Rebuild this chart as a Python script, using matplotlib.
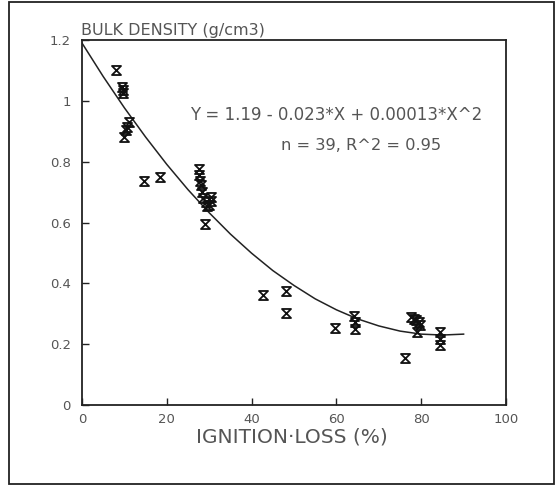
import matplotlib
matplotlib.use("Agg")
import matplotlib.pyplot as plt
from matplotlib.path import Path
from matplotlib.patches import Rectangle

# ---- data ----
ignition_loss = [8.1, 9.5, 9.6, 9.7, 9.9, 10.3, 10.6, 11.1, 14.6, 18.3,
                 27.6, 27.6, 27.8, 28.0, 28.4, 28.6, 29.2, 29.5, 30.0, 30.4,
                 30.4, 28.9, 42.7, 48.2, 48.0, 59.6, 64.2, 64.3, 64.3, 76.1,
                 77.7, 78.3, 78.8, 79.4, 79.6, 79.1, 84.4, 84.5, 84.5]
bulk_density = [1.10, 1.045, 1.025, 1.035, 0.88, 0.905, 0.915, 0.93, 0.738, 0.751,
                0.777, 0.755, 0.735, 0.724, 0.70, 0.68, 0.669, 0.655, 0.658, 0.685,
                0.67, 0.595, 0.363, 0.374, 0.303, 0.254, 0.293, 0.273, 0.251, 0.155,
                0.289, 0.284, 0.278, 0.272, 0.264, 0.240, 0.240, 0.218, 0.198]

fit_x = [0, 5, 10, 15, 20, 25, 30, 35, 40, 45, 50, 55, 60, 65, 70, 75, 80, 85, 90]
fit_y = [1.19, 1.080, 0.977, 0.881, 0.791, 0.708, 0.632, 0.562, 0.499, 0.442,
         0.393, 0.349, 0.313, 0.283, 0.260, 0.243, 0.233, 0.230, 0.233]

x_ticks = [0, 20, 40, 60, 80, 100]
x_tick_labels = ["0", "20", "40", "60", "80", "100"]
y_ticks = [0, 0.2, 0.4, 0.6, 0.8, 1.0, 1.2]
y_tick_labels = ["0", "0.2", "0.4", "0.6", "0.8", "1", "1.2"]

title_text = "BULK DENSITY (g/cm3)"
xlabel_text = "IGNITION\u00b7LOSS (%)"
eq_text = "Y = 1.19 - 0.023*X + 0.00013*X^2"
stat_text = "n = 39, R^2 = 0.95"

# ---- figure ----
W, H = 557, 486
fig = plt.figure(figsize=(W / 100, H / 100), dpi=100)
fig.patch.set_facecolor("white")

# outer frame
fig.add_artist(Rectangle((9 / W, 2 / H), (554 - 9) / W, (478 - 2 + 6) / H,
                         transform=fig.transFigure, fill=False,
                         edgecolor="#222222", linewidth=1.3))

ax = fig.add_axes([82 / W, 1 - 405 / H, (506 - 82) / W, (405 - 40) / H])

hourglass = Path([(-1, 1), (1, 1), (-1, -1), (1, -1), (-1, 1)],
                 [Path.MOVETO, Path.LINETO, Path.LINETO, Path.LINETO, Path.CLOSEPOLY])

ax.plot(fit_x, fit_y, color="#222222", linewidth=1.1)
ax.plot(ignition_loss, bulk_density, linestyle="none", marker=hourglass,
        markersize=6.5, markerfacecolor="none", markeredgecolor="#111111",
        markeredgewidth=1.3)

ax.set_xlim(0, 100)
ax.set_ylim(0, 1.2)
ax.set_xticks(x_ticks)
ax.set_xticklabels(x_tick_labels)
ax.set_yticks(y_ticks)
ax.set_yticklabels(y_tick_labels)
ax.tick_params(direction="in", length=5, width=1, colors="#222222",
               labelcolor="#555555", labelsize=9.5)
ax.tick_params(axis="y", pad=8)
ax.tick_params(axis="x", pad=6)
for s in ax.spines.values():
    s.set_linewidth(1.3)
    s.set_color("#222222")

fig.text(81 / W, 1 - 30 / H, title_text, fontsize=11.5,
         color="#555555", ha="left", va="center")
fig.text((190 + 393) / 2 / W, 1 - 437 / H, xlabel_text, fontsize=14.5,
         color="#555555", ha="center", va="center")
fig.text(190 / W, 1 - 115 / H, eq_text, fontsize=12,
         color="#555555", ha="left", va="center")
fig.text(281 / W, 1 - 145 / H, stat_text, fontsize=11.7,
         color="#555555", ha="left", va="center")

fig.savefig("out.png", dpi=100, facecolor="white")
